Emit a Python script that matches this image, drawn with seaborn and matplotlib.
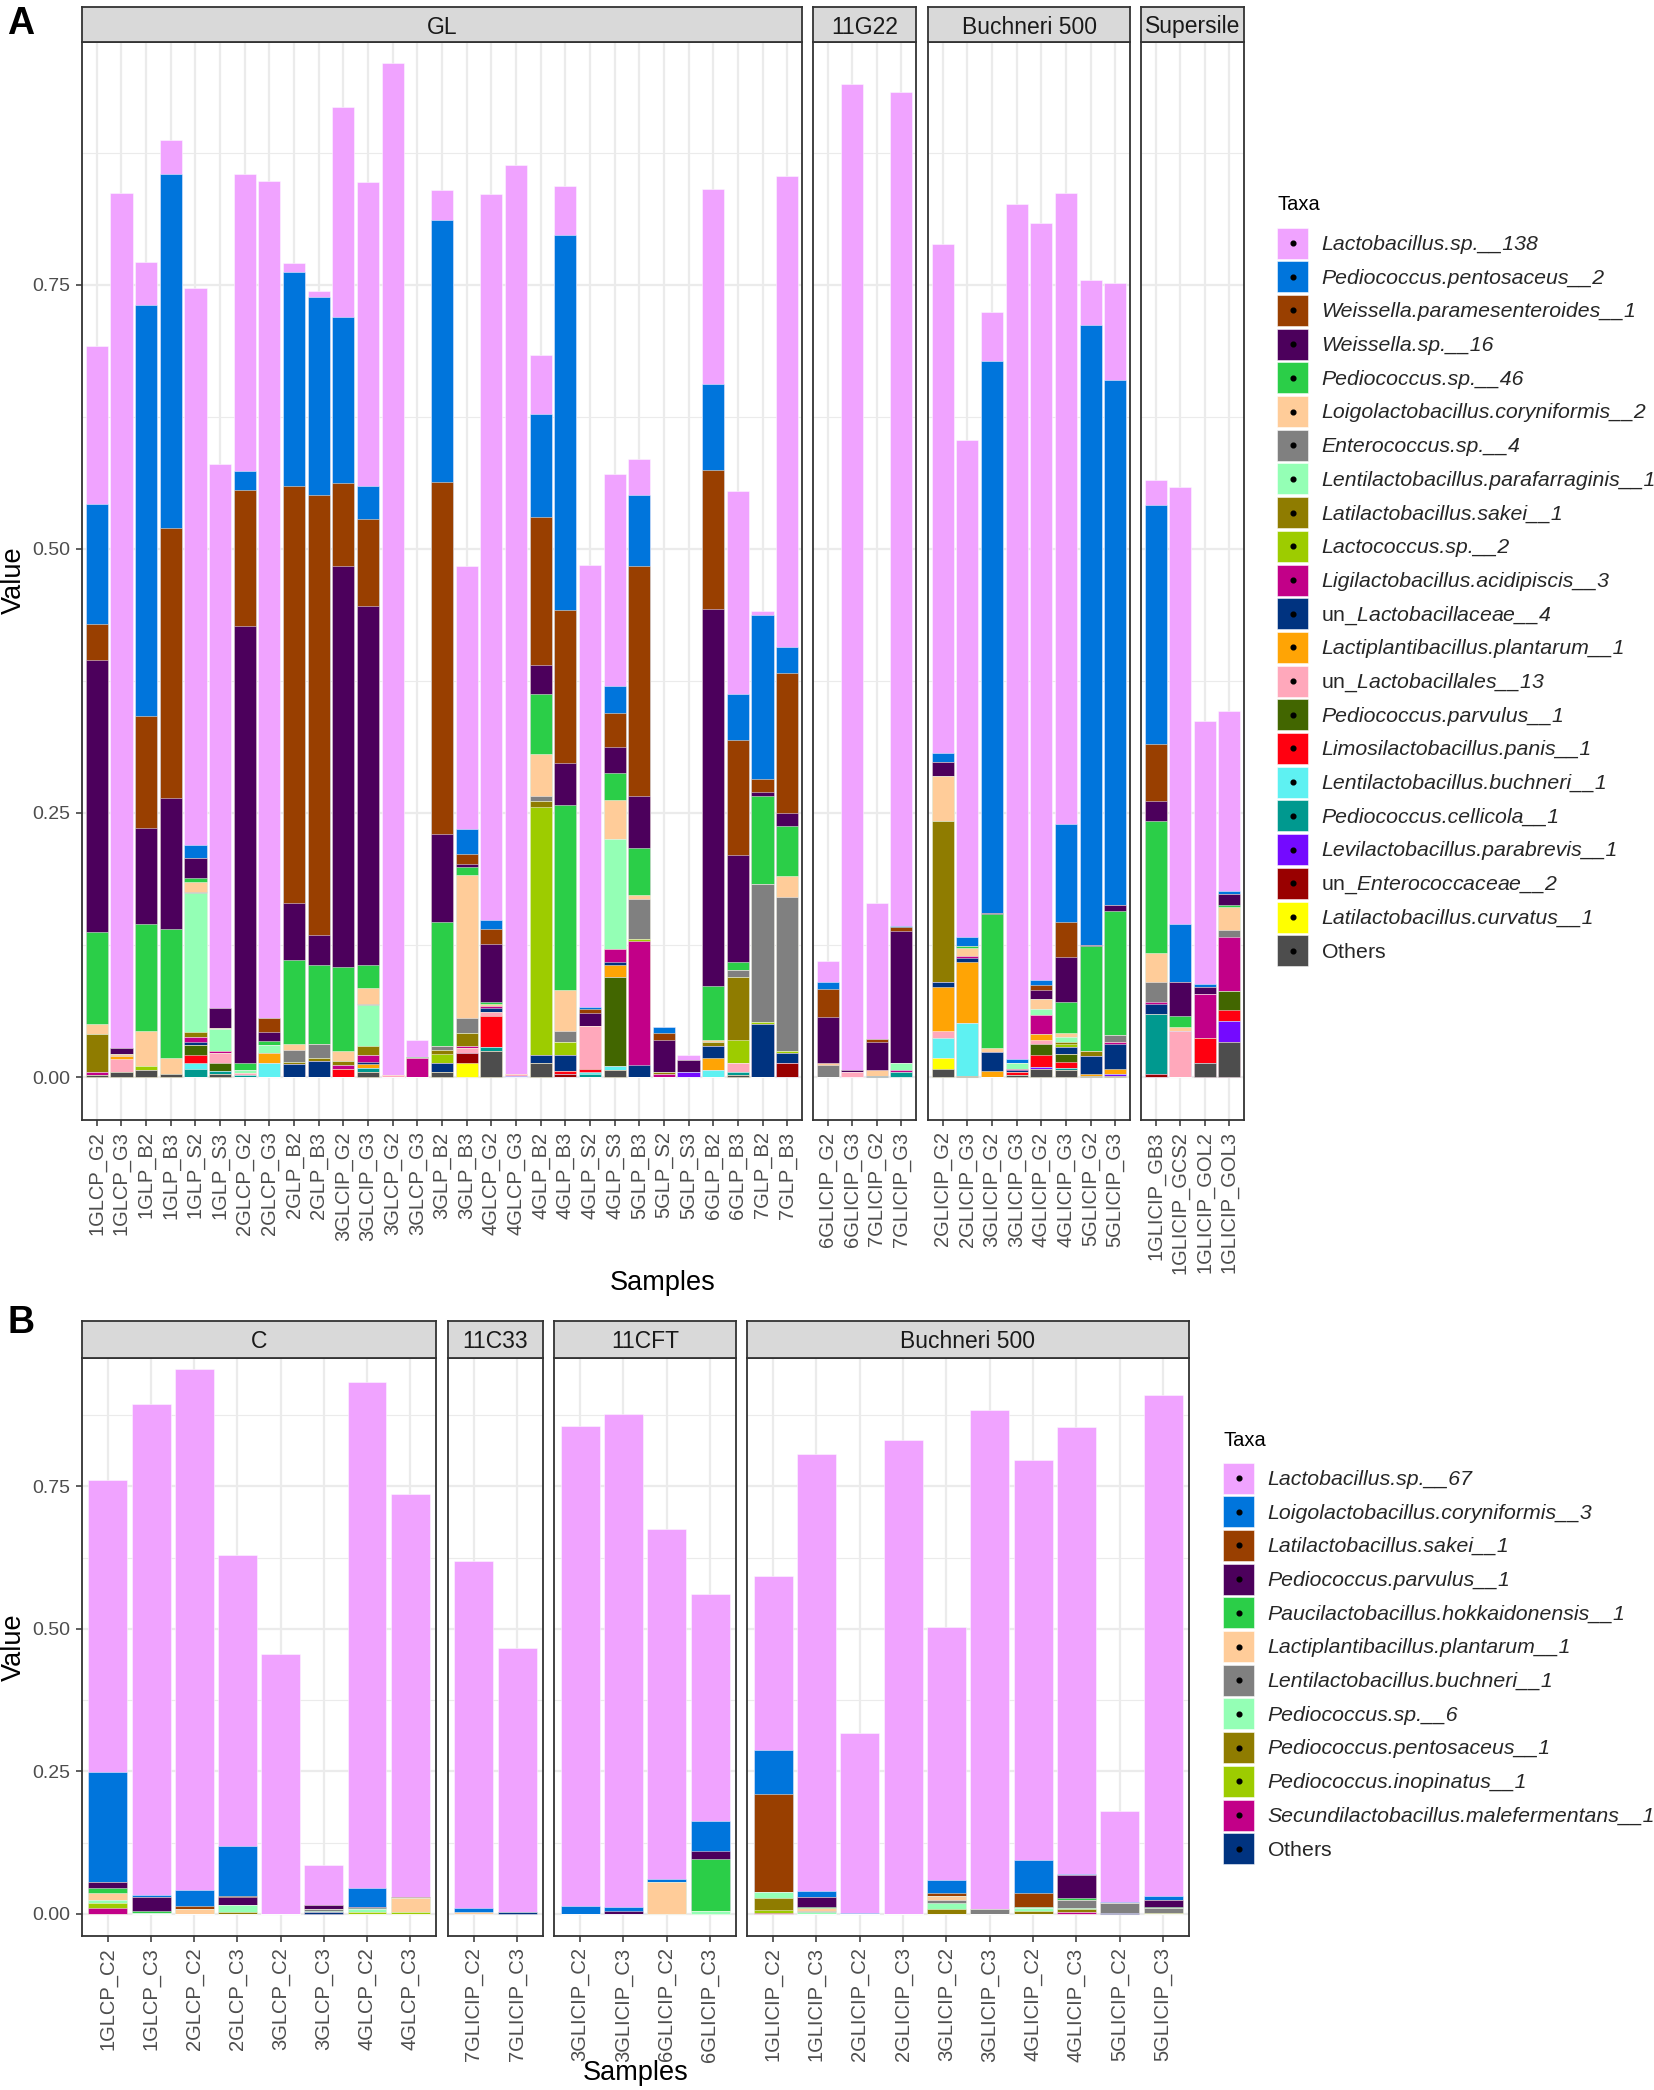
import numpy as np
import pandas as pd
import matplotlib
matplotlib.use("Agg")
import matplotlib.pyplot as plt
import seaborn as sns
from matplotlib.patches import Patch, Rectangle
from matplotlib.lines import Line2D
from matplotlib.legend_handler import HandlerBase
from matplotlib.ticker import FixedLocator
from matplotlib.font_manager import FontProperties

# ======================= DATA : panel A =======================
A_facets = ["GL", "11G22", "Buchneri 500", "Supersile"]
A_samples_GL = ["1GLCP_G2", "1GLCP_G3", "1GLP_B2", "1GLP_B3", "1GLP_S2", "1GLP_S3",
                "2GLCP_G2", "2GLCP_G3", "2GLP_B2", "2GLP_B3", "3GLCIP_G2", "3GLCIP_G3",
                "3GLCP_G2", "3GLCP_G3", "3GLP_B2", "3GLP_B3", "4GLCP_G2", "4GLCP_G3",
                "4GLP_B2", "4GLP_B3", "4GLP_S2", "4GLP_S3", "5GLP_B3", "5GLP_S2",
                "5GLP_S3", "6GLP_B2", "6GLP_B3", "7GLP_B2", "7GLP_B3"]
A_samples_11G22 = ["6GLICIP_G2", "6GLICIP_G3", "7GLICIP_G2", "7GLICIP_G3"]
A_samples_B500 = ["2GLICIP_G2", "2GLICIP_G3", "3GLICIP_G2", "3GLICIP_G3",
                  "4GLICIP_G2", "4GLICIP_G3", "5GLICIP_G2", "5GLICIP_G3"]
A_samples_SUP = ["1GLICIP_GB3", "1GLICIP_GCS2", "1GLICIP_GOL2", "1GLICIP_GOL3"]

A_taxa = ["Lactobacillus.sp.__138", "Pediococcus.pentosaceus__2", "Weissella.paramesenteroides__1",
          "Weissella.sp.__16", "Pediococcus.sp.__46", "Loigolactobacillus.coryniformis__2",
          "Enterococcus.sp.__4", "Lentilactobacillus.parafarraginis__1", "Latilactobacillus.sakei__1",
          "Lactococcus.sp.__2", "Ligilactobacillus.acidipiscis__3", "un_Lactobacillaceae__4",
          "Lactiplantibacillus.plantarum__1", "un_Lactobacillales__13", "Pediococcus.parvulus__1",
          "Limosilactobacillus.panis__1", "Lentilactobacillus.buchneri__1", "Pediococcus.cellicola__1",
          "Levilactobacillus.parabrevis__1", "un_Enterococcaceae__2", "Latilactobacillus.curvatus__1",
          "Others"]
A_colors = ["#F0A3FF", "#0075DC", "#993F00", "#4C005C", "#2BCE48", "#FFCC99", "#808080",
            "#94FFB5", "#8F7C00", "#9DCC00", "#C20088", "#003380", "#FFA405", "#FFA8BB",
            "#426600", "#FF0010", "#5EF1F2", "#00998F", "#740AFF", "#990000", "#FFFF00",
            "#4D4D4D"]

# values per taxon, samples in order GL(29) | 11G22(4) | Buchneri 500(8) | Supersile(4)
A_Lsp = [0.150, 0.810, 0.041, 0.032, 0.527, 0.515, 0.281, 0.792, 0.009, 0.005,
         0.198, 0.2875, 0.958, 0.016, 0.028, 0.249, 0.687, 0.8605, 0.056, 0.046,
         0.419, 0.201, 0.034, 0.0, 0.005, 0.1845, 0.192, 0.0035, 0.4456,
         0.0203, 0.9336, 0.129, 0.7897,
         0.482, 0.4705, 0.046, 0.8103, 0.7169, 0.597, 0.0433, 0.092,
         0.0237, 0.4136, 0.2486, 0.1706]
A_Ppen = [0.114, 0, 0.3895, 0.335, 0.013, 0, 0.018, 0, 0.202, 0.188,
          0.158, 0.0315, 0, 0, 0.2486, 0.024, 0.009, 0, 0.098, 0.3556,
          0.002, 0.0254, 0.0673, 0.0054, 0, 0.0814, 0.044, 0.1555, 0.0244,
          0.0067, 0, 0, 0.0014,
          0.009, 0.009, 0.5223, 0.0032, 0.0046, 0.0926, 0.5867, 0.497,
          0.227, 0.0553, 0.0034, 0.003]
A_Wpar = [0.034, 0, 0.1055, 0.256, 0, 0, 0.129, 0.013, 0.395, 0.417,
          0.078, 0.0825, 0, 0, 0.333, 0.009, 0.014, 0, 0.140, 0.145,
          0.003, 0.032, 0.2172, 0.0066, 0, 0.1313, 0.109, 0.012, 0.133,
          0.0266, 0, 0.003, 0.0036,
          0, 0, 0, 0, 0.005, 0.033, 0, 0,
          0.054, 0, 0, 0]
A_Wsp = [0.257, 0.005, 0.091, 0.124, 0.019, 0.019, 0.414, 0.009, 0.054, 0.028,
         0.380, 0.340, 0, 0, 0.083, 0.003, 0.055, 0, 0.027, 0.039,
         0.013, 0.0246, 0.050, 0.030, 0.011, 0.3568, 0.101, 0.004, 0.0123,
         0.0429, 0.0019, 0.026, 0.1252,
         0.013, 0, 0.0012, 0, 0.0083, 0.043, 0.0014, 0.0055,
         0.019, 0.032, 0.006, 0.010]
A_Psp = [0.087, 0, 0.101, 0.122, 0.003, 0, 0.006, 0.004, 0.080, 0.075,
         0.079, 0.022, 0, 0.001, 0.118, 0.008, 0.002, 0, 0.0574, 0.176,
         0, 0.0253, 0.0445, 0, 0, 0.0515, 0.008, 0.0834, 0.0477,
         0, 0, 0, 0,
         0, 0.002, 0.127, 0, 0, 0.0294, 0.0993, 0.1175,
         0.125, 0.0107, 0, 0.002]
A_Lcor = [0.0096, 0.002, 0.034, 0.015, 0.010, 0.001, 0, 0, 0.005, 0,
          0.010, 0.015, 0, 0, 0, 0.135, 0.002, 0, 0.039, 0.038,
          0, 0.037, 0.003, 0, 0, 0.002, 0, 0, 0.020,
          0.002, 0, 0.006, 0,
          0.043, 0.007, 0.0038, 0, 0.0097, 0.0036, 0, 0,
          0.0273, 0.0034, 0, 0.022]
A_Esp = [0, 0, 0, 0, 0.001, 0, 0, 0, 0.012, 0.013,
         0, 0.001, 0, 0, 0.003, 0.014, 0, 0, 0.0055, 0.011,
         0, 0, 0.038, 0, 0, 0, 0.006, 0.1306, 0.1457,
         0.0115, 0, 0, 0,
         0, 0, 0, 0, 0, 0, 0, 0.007,
         0.0187, 0, 0, 0.006]
A_Lpf = [0, 0, 0, 0, 0.131, 0.020, 0.003, 0.007, 0, 0,
         0, 0.039, 0, 0, 0, 0, 0, 0, 0, 0,
         0, 0.1045, 0, 0, 0, 0, 0, 0, 0,
         0, 0, 0, 0.0058,
         0, 0, 0, 0.0055, 0.005, 0.005, 0, 0,
         0, 0, 0, 0]
A_Lsak = [0.036, 0, 0, 0, 0.005, 0, 0, 0, 0.002, 0.003,
          0.004, 0.008, 0, 0, 0.004, 0.013, 0, 0, 0.005, 0,
          0, 0, 0, 0.002, 0, 0.0035, 0.060, 0, 0,
          0, 0, 0, 0,
          0.1523, 0, 0, 0, 0, 0.002, 0.0043, 0,
          0, 0, 0, 0]
A_Lcsp = [0, 0, 0.003, 0, 0, 0, 0, 0, 0, 0,
          0, 0, 0, 0, 0.009, 0, 0, 0, 0.235, 0.012,
          0, 0, 0.002, 0, 0, 0, 0.0215, 0.002, 0.0015,
          0, 0, 0, 0,
          0, 0, 0, 0, 0, 0.003, 0, 0,
          0, 0, 0, 0]
A_Lacid = [0.003, 0, 0, 0, 0.005, 0.002, 0, 0, 0, 0,
           0.003, 0.007, 0, 0.018, 0, 0.002, 0.002, 0, 0, 0,
           0, 0.012, 0.1175, 0.003, 0, 0, 0, 0, 0,
           0, 0, 0, 0.0025,
           0, 0.002, 0, 0.001, 0.018, 0, 0, 0.002,
           0.002, 0, 0.042, 0.052]
A_unLb = [0, 0, 0, 0, 0.003, 0, 0, 0, 0.012, 0.015,
          0, 0.002, 0, 0, 0.008, 0, 0.003, 0, 0.0075, 0.015,
          0, 0.003, 0.0115, 0, 0, 0.0115, 0, 0.050, 0.010,
          0, 0, 0, 0,
          0.0047, 0.004, 0.0177, 0.002, 0, 0.006, 0.017, 0.023,
          0.009, 0, 0, 0]
A_Lpl = [0, 0.003, 0, 0, 0, 0, 0, 0.010, 0, 0,
         0, 0.003, 0, 0, 0, 0, 0, 0, 0, 0,
         0, 0.011, 0, 0, 0, 0.011, 0, 0, 0,
         0, 0, 0, 0,
         0.0414, 0.058, 0.006, 0, 0.006, 0, 0.002, 0.005,
         0, 0, 0, 0]
A_unLs = [0, 0.012, 0, 0, 0, 0.010, 0.002, 0, 0, 0,
          0, 0, 0.002, 0, 0, 0.004, 0.004, 0.002, 0, 0,
          0.040, 0, 0, 0, 0, 0, 0.0085, 0, 0,
          0, 0.0045, 0, 0,
          0.0066, 0, 0, 0, 0.004, 0, 0, 0,
          0, 0.0436, 0, 0]
A_Ppar = [0, 0, 0, 0, 0.009, 0.007, 0, 0, 0, 0,
          0, 0, 0, 0, 0, 0, 0, 0, 0, 0,
          0, 0.0845, 0, 0, 0, 0, 0, 0, 0,
          0, 0, 0, 0,
          0, 0, 0, 0, 0.0105, 0.008, 0, 0,
          0, 0, 0, 0.018]
A_Lpan = [0, 0, 0, 0, 0.008, 0, 0, 0, 0, 0,
          0.008, 0, 0, 0, 0, 0, 0.030, 0, 0, 0.003,
          0.003, 0, 0, 0, 0, 0, 0, 0, 0,
          0, 0, 0, 0,
          0, 0, 0, 0.003, 0.0109, 0.005, 0, 0,
          0, 0, 0.0242, 0.010]
A_Lbuc = [0, 0, 0, 0, 0.005, 0, 0, 0.013, 0, 0,
          0, 0, 0, 0, 0, 0, 0, 0, 0, 0,
          0.002, 0.0035, 0, 0, 0, 0.007, 0, 0, 0,
          0, 0, 0, 0,
          0.019, 0.050, 0, 0, 0, 0, 0, 0,
          0, 0, 0, 0]
A_Pcel = [0, 0, 0, 0, 0.008, 0.003, 0.002, 0, 0, 0,
          0, 0.004, 0, 0, 0, 0, 0.003, 0, 0, 0,
          0.003, 0, 0, 0, 0, 0, 0.003, 0, 0,
          0, 0, 0, 0.0045,
          0, 0, 0, 0, 0, 0.002, 0, 0,
          0.057, 0, 0, 0]
A_Lpb = [0, 0, 0, 0, 0, 0, 0, 0, 0, 0,
         0, 0, 0, 0, 0, 0, 0, 0.001, 0, 0,
         0, 0, 0, 0, 0.005, 0, 0, 0, 0,
         0, 0, 0, 0,
         0, 0, 0, 0, 0.0016, 0, 0, 0.002,
         0, 0, 0, 0.0203]
A_unEn = [0, 0, 0, 0, 0, 0, 0, 0, 0, 0,
          0, 0, 0, 0, 0, 0.010, 0, 0, 0, 0.003,
          0, 0, 0, 0, 0, 0, 0, 0, 0.0128,
          0, 0, 0, 0,
          0, 0, 0, 0, 0, 0, 0, 0,
          0.003, 0, 0, 0]
A_Lcur = [0, 0, 0, 0, 0, 0, 0, 0, 0, 0,
          0, 0, 0, 0, 0, 0.013, 0, 0, 0, 0,
          0, 0, 0, 0, 0, 0, 0, 0, 0,
          0, 0, 0, 0,
          0.010, 0, 0, 0, 0, 0, 0, 0,
          0, 0, 0, 0]
A_Oth = [0.002, 0.005, 0.007, 0.003, 0, 0.003, 0, 0, 0, 0,
         0, 0.005, 0, 0, 0.005, 0, 0.025, 0, 0.0135, 0,
         0, 0.007, 0, 0, 0, 0, 0.002, 0, 0,
         0, 0, 0.001, 0,
         0.008, 0.001, 0, 0.002, 0.008, 0.007, 0.001, 0.001,
         0, 0, 0.0128, 0.0327]

# ======================= DATA : panel B =======================
B_facets = ["C", "11C33", "11CFT", "Buchneri 500"]
B_samples_C = ["1GLCP_C2", "1GLCP_C3", "2GLCP_C2", "2GLCP_C3",
               "3GLCP_C2", "3GLCP_C3", "4GLCP_C2", "4GLCP_C3"]
B_samples_11C33 = ["7GLICIP_C2", "7GLICIP_C3"]
B_samples_11CFT = ["3GLICIP_C2", "3GLICIP_C3", "6GLICIP_C2", "6GLICIP_C3"]
B_samples_B500 = ["1GLICIP_C2", "1GLICIP_C3", "2GLICIP_C2", "2GLICIP_C3", "3GLICIP_C2",
                  "3GLICIP_C3", "4GLICIP_C2", "4GLICIP_C3", "5GLICIP_C2", "5GLICIP_C3"]
B_taxa = ["Lactobacillus.sp.__67", "Loigolactobacillus.coryniformis__3", "Latilactobacillus.sakei__1",
          "Pediococcus.parvulus__1", "Paucilactobacillus.hokkaidonensis__1",
          "Lactiplantibacillus.plantarum__1", "Lentilactobacillus.buchneri__1", "Pediococcus.sp.__6",
          "Pediococcus.pentosaceus__1", "Pediococcus.inopinatus__1",
          "Secundilactobacillus.malefermentans__1", "Others"]
B_colors = ["#F0A3FF", "#0075DC", "#993F00", "#4C005C", "#2BCE48", "#FFCC99",
            "#808080", "#94FFB5", "#8F7C00", "#9DCC00", "#C20088", "#003380"]

# samples in order C(8) | 11C33(2) | 11CFT(4) | Buchneri 500(10)
B_Lsp = [0.512, 0.862, 0.9134, 0.511, 0.4565, 0.0704, 0.887, 0.707,
         0.609, 0.4617,
         0.8415, 0.8636, 0.6143, 0.399,
         0.3053, 0.7664, 0.316, 0.832, 0.4436, 0.876, 0.7012, 0.7826, 0.1605, 0.879]
B_Lcor = [0.193, 0.003, 0.027, 0.0873, 0, 0, 0.033, 0,
          0.007, 0,
          0.0145, 0.008, 0.0047, 0.053,
          0.0766, 0.0099, 0.001, 0, 0.022, 0, 0.058, 0.002, 0.002, 0.006]
B_Lsak = [0, 0, 0.0055, 0.002, 0, 0, 0, 0.0013,
          0, 0,
          0, 0, 0, 0,
          0.1724, 0, 0, 0, 0.006, 0, 0.0233, 0, 0, 0]
B_Ppar = [0.010, 0.025, 0, 0.0132, 0, 0.007, 0.002, 0,
          0, 0,
          0, 0.005, 0, 0.013,
          0, 0.0167, 0, 0, 0, 0, 0, 0.041, 0, 0.013]
B_Phok = [0.009, 0.003, 0, 0.0015, 0, 0, 0.002, 0,
          0, 0,
          0, 0, 0, 0.092,
          0, 0.002, 0, 0, 0, 0, 0.003, 0.003, 0, 0.0015]
B_Lpl = [0.013, 0, 0.009, 0, 0, 0, 0, 0.0247,
         0.003, 0,
         0, 0, 0.056, 0,
         0, 0.005, 0, 0, 0.007, 0, 0, 0, 0, 0]
B_Lbuc = [0, 0, 0, 0, 0, 0.0044, 0, 0,
          0, 0,
          0, 0, 0, 0,
          0, 0.002, 0, 0, 0.004, 0.0086, 0, 0.014, 0.0165, 0.0085]
B_Psp6 = [0.005, 0.002, 0, 0.012, 0, 0.0016, 0.006, 0,
          0, 0,
          0, 0, 0, 0.005,
          0.0096, 0.004, 0, 0, 0.0114, 0, 0.005, 0.003, 0, 0]
B_Ppen = [0, 0, 0, 0.003, 0, 0, 0, 0,
          0, 0,
          0, 0, 0, 0,
          0.0218, 0, 0, 0, 0.0086, 0, 0.005, 0.005, 0, 0.002]
B_Pino = [0.009, 0, 0, 0, 0, 0, 0.003, 0.003,
          0, 0,
          0, 0, 0, 0,
          0.0046, 0, 0, 0, 0, 0, 0, 0, 0, 0]
B_Smal = [0.010, 0, 0, 0, 0, 0, 0, 0,
          0, 0,
          0, 0, 0, 0,
          0.002, 0, 0, 0, 0, 0, 0, 0.003, 0, 0]
B_Oth = [0, 0, 0, 0, 0, 0.003, 0, 0,
         0, 0.004,
         0, 0, 0, 0,
         0, 0, 0, 0, 0, 0, 0, 0, 0.002, 0]

# ======================= STYLE / LAYOUT =======================
sns.set_theme(style="ticks")
plt.rcParams['font.family'] = ['Liberation Sans', 'DejaVu Sans']
plt.rcParams['mathtext.fontset'] = 'custom'
plt.rcParams['mathtext.rm'] = 'Liberation Sans'
plt.rcParams['mathtext.it'] = 'Liberation Sans:italic'
plt.rcParams['mathtext.bf'] = 'Liberation Sans:bold'

W, H = 1654, 2090
fig = plt.figure(figsize=(W / 100, H / 100), dpi=100)
fig.patch.set_facecolor("white")


def fbox(x0, x1, y0, y1):
    return [x0 / W, 1 - y1 / H, (x1 - x0) / W, (y1 - y0) / H]


BORDER = "#333333"
GRID = "#EBEBEB"


class KeyHandler(HandlerBase):
    def create_artists(self, legend, orig_handle, xdescent, ydescent, width, height, fontsize, trans):
        r = Rectangle((-xdescent, -ydescent), width, height,
                      facecolor=orig_handle.get_facecolor(), edgecolor=(1, 1, 1, 0.6),
                      lw=0.6, transform=trans)
        d = Line2D([-xdescent + width / 2], [-ydescent + height / 2], marker="o",
                   color="black", markersize=3.4, linestyle="none", transform=trans)
        return [r, d]


def fmt_label(t):
    if t == "Others":
        return r"$\mathrm{Others}$"
    if t.startswith("un_"):
        return r"$\mathrm{un\_}$" + t[3:]
    return t


def draw_panel(facets, sample_groups, taxa, colors, series, xranges, yplot, ystrip, ylim,
               legend_key_x, legend_first_y, legend_text_x, taxa_title_y, letter, letter_xy,
               samples_xy, value_xy):
    values = np.array(series, dtype=float)          # (ntaxa, nsamples) top-first
    start = 0
    for fi, (fname, samples) in enumerate(zip(facets, sample_groups)):
        n = len(samples)
        seg = values[:, start:start + n]
        start += n
        x0, x1 = xranges[fi]
        ax = fig.add_axes(fbox(x0, x1, yplot[0], yplot[1]))
        bottom_up = seg[::-1]
        cols_bu = colors[::-1]
        cum = np.cumsum(bottom_up, axis=0)
        for k in range(len(cum) - 1, -1, -1):
            if bottom_up[k].sum() <= 0:
                continue
            df = pd.DataFrame({"Samples": samples, "Value": cum[k]})
            sns.barplot(data=df, x="Samples", y="Value", order=samples, color=cols_bu[k],
                        saturation=1, width=0.9, errorbar=None, ax=ax,
                        edgecolor=(1, 1, 1, 0.55), linewidth=0.6)
        ax.set_xlim(-0.6, n - 0.4)
        ax.set_ylim(*ylim)
        ax.set_xlabel("")
        ax.set_ylabel("")
        ax.set_xticks(range(n))
        ax.set_xticklabels(samples, rotation=90, fontsize=14.5, color="#4D4D4D",
                           ha="center", va="top")
        ax.set_yticks([0, 0.25, 0.5, 0.75])
        ax.set_yticklabels(["0.00", "0.25", "0.50", "0.75"], fontsize=14, color="#4D4D4D")
        ax.yaxis.set_minor_locator(FixedLocator([0.125, 0.375, 0.625, 0.875]))
        ax.set_axisbelow(True)
        ax.grid(True, which="major", axis="both", color=GRID, lw=1.6)
        ax.grid(True, which="minor", axis="y", color=GRID, lw=0.8)
        ax.tick_params(axis="both", which="major", length=4.2, width=1.1, color=BORDER,
                       pad=4.0, bottom=True, left=True)
        ax.tick_params(axis="y", which="minor", length=0, left=False)
        ax.tick_params(axis="x", which="minor", length=0, bottom=False)
        if fi > 0:
            ax.tick_params(axis="y", which="major", left=False, labelleft=False)
        for sp in ax.spines.values():
            sp.set_visible(True)
            sp.set_color(BORDER)
            sp.set_linewidth(1.3)
        # facet strip
        sax = fig.add_axes(fbox(x0, x1, ystrip[0], ystrip[1]))
        sax.set_facecolor("#D9D9D9")
        sax.set_xticks([])
        sax.set_yticks([])
        for sp in sax.spines.values():
            sp.set_visible(True)
            sp.set_color(BORDER)
            sp.set_linewidth(1.3)
        sax.text(0.5, 0.5, fname, ha="center", va="center_baseline", fontsize=16.5,
                 color="#1A1A1A", transform=sax.transAxes)

    # legend
    fs = 15.3
    fs_px = fs * 100 / 72
    key = 31.0
    hl = key / fs_px
    hh = (key / fs_px - 0.245) / 0.65
    ls = (33.7 - key) / fs_px
    htp = (legend_text_x - (legend_key_x + key)) / fs_px
    handles = [Patch(facecolor=c) for c in colors]
    labels = [fmt_label(t) for t in taxa]
    fig.legend(handles, labels, loc="upper left",
               bbox_to_anchor=(legend_key_x / W, 1 - (legend_first_y - key / 2) / H),
               frameon=False, prop=FontProperties(family="Liberation Sans", style="italic", size=fs),
               handler_map={Patch: KeyHandler()}, handlelength=hl, handleheight=hh,
               labelspacing=ls, handletextpad=htp, borderpad=0, borderaxespad=0)
    fig.text(legend_key_x / W, 1 - taxa_title_y / H, "Taxa", ha="left", va="center",
             fontsize=14.5, color="black")
    fig.text(letter_xy[0] / W, 1 - letter_xy[1] / H, letter, ha="center", va="center",
             fontsize=27, fontweight="bold", color="black")
    fig.text(samples_xy[0] / W, 1 - samples_xy[1] / H, "Samples", ha="center", va="center",
             fontsize=19.5, color="black")
    fig.text(value_xy[0] / W, 1 - value_xy[1] / H, "Value", ha="center", va="center",
             rotation=90, fontsize=19.5, color="black")


A_series = [A_Lsp, A_Ppen, A_Wpar, A_Wsp, A_Psp, A_Lcor, A_Esp, A_Lpf, A_Lsak, A_Lcsp, A_Lacid,
            A_unLb, A_Lpl, A_unLs, A_Ppar, A_Lpan, A_Lbuc, A_Pcel, A_Lpb, A_unEn, A_Lcur, A_Oth]
B_series = [B_Lsp, B_Lcor, B_Lsak, B_Ppar, B_Phok, B_Lpl, B_Lbuc, B_Psp6, B_Ppen, B_Pino,
            B_Smal, B_Oth]

draw_panel(A_facets, [A_samples_GL, A_samples_11G22, A_samples_B500, A_samples_SUP],
           A_taxa, A_colors, A_series,
           xranges=[(82, 802), (813, 916), (928, 1130), (1141, 1244)],
           yplot=(42, 1120), ystrip=(7, 42), ylim=(-0.0407, 0.980),
           legend_key_x=1277, legend_first_y=243, legend_text_x=1321, taxa_title_y=204,
           letter="A", letter_xy=(21, 24), samples_xy=(663, 1283), value_xy=(14, 580))

draw_panel(B_facets, [B_samples_C, B_samples_11C33, B_samples_11CFT, B_samples_B500],
           B_taxa, B_colors, B_series,
           xranges=[(82, 436), (448, 543), (554, 736), (747, 1189)],
           yplot=(1358, 1936), ystrip=(1321, 1358), ylim=(-0.0386, 0.975),
           legend_key_x=1223, legend_first_y=1478, legend_text_x=1267, taxa_title_y=1441,
           letter="B", letter_xy=(21, 1323), samples_xy=(636, 2073), value_xy=(14, 1647))

fig.savefig("out.png", dpi=100, facecolor="white")
